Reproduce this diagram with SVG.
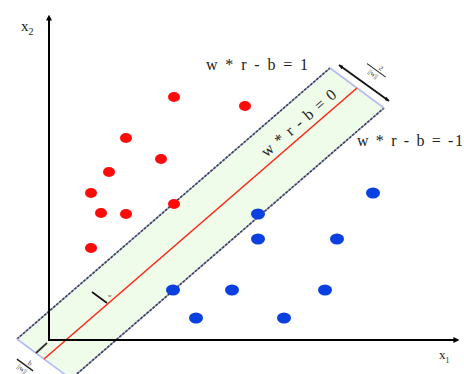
<svg xmlns="http://www.w3.org/2000/svg" width="464" height="374" viewBox="0 0 464 374">
<defs>
<style>
.red{fill:#ff0a0a}
.blue{fill:#0a3fe0}
.lbl{font-family:"Liberation Serif","Times New Roman",serif;fill:#222}
.edge{stroke:#9aa0c8;stroke-width:1.6;fill:none}
.edged{stroke:#3c4058;stroke-width:1.6;stroke-dasharray:2.5,1.5;fill:none}
.short{stroke:#b4bcf2;stroke-width:1.6;fill:none}
.axis{stroke:#000;stroke-width:2;fill:none}
</style>
<marker id="ah" viewBox="0 0 10 10" refX="1" refY="5" markerWidth="6" markerHeight="6" orient="auto" markerUnits="userSpaceOnUse">
<path d="M0,0 L10,5 L0,10 z" fill="#000"/>
</marker>
<marker id="sa" viewBox="0 0 10 10" refX="9" refY="5" markerWidth="5" markerHeight="5" orient="auto-start-reverse" markerUnits="userSpaceOnUse">
<path d="M0,1 L10,5 L0,9 z" fill="#111"/>
</marker>
</defs>
<rect width="464" height="374" fill="#fff"/>
<g id="margin-band">
<polygon points="17,339 330,68 384,108 71,379" fill="#effcea"/>
<line class="edge" x1="17" y1="339" x2="330" y2="68"/>
<line class="edged" x1="17" y1="339" x2="330" y2="68"/>
<line class="edge" x1="71" y1="379" x2="384" y2="108"/>
<line class="edged" x1="71" y1="379" x2="384" y2="108"/>
<line class="short" x1="17" y1="339" x2="71" y2="379"/>
<line class="short" x1="330" y1="68" x2="384" y2="108"/>
</g>
<g id="hyperplane">
<line x1="44" y1="359" x2="357" y2="88" stroke="#ff2a1a" stroke-width="1.6"/>
<text class="lbl" font-size="16" text-anchor="middle" transform="translate(302,127) rotate(-40.9)" textLength="94" lengthAdjust="spacing">w * r - b = 0</text>
</g>
<g id="connectors">
<line class="axis" x1="49" y1="341" x2="49" y2="20" marker-end="url(#ah)"/>
<line class="axis" x1="48" y1="340" x2="454" y2="340" marker-end="url(#ah)"/>
<line x1="339" y1="65" x2="389" y2="101" stroke="#111" stroke-width="1.8" marker-start="url(#sa)" marker-end="url(#sa)"/>
<line x1="36" y1="353" x2="47" y2="343" stroke="#333" stroke-width="1.8"/>
<line x1="92" y1="292" x2="107" y2="303" stroke="#111" stroke-width="1.6"/>
</g>
<g id="axis-labels">
<text class="lbl" x="21" y="31" font-size="15">x<tspan font-size="10" dy="4">2</tspan></text>
<text class="lbl" x="439" y="359" font-size="13">x<tspan font-size="8" dy="4">1</tspan></text>
</g>
<g id="margin-labels">
<text class="lbl" x="206" y="70" font-size="16" textLength="102" lengthAdjust="spacing">w * r - b = 1</text>
<text class="lbl" x="357" y="146" font-size="16" textLength="106" lengthAdjust="spacing">w * r - b = -1</text>
<text class="lbl" font-size="5" x="108" y="297" fill="#777">w</text>
</g>
<g id="width-label" transform="translate(376,70) rotate(36)">
<text class="lbl" font-size="7" x="3" y="-2" text-anchor="middle">2</text>
<line x1="-11" y1="0" x2="12" y2="0" stroke="#222" stroke-width="1"/>
<text class="lbl" font-size="7" x="0" y="7" text-anchor="middle">||w||</text>
</g>
<g id="offset-label" transform="translate(25,365) rotate(36)">
<text class="lbl" font-size="7" x="3" y="-2" text-anchor="middle">b</text>
<line x1="-10" y1="0" x2="10" y2="0" stroke="#222" stroke-width="1.3"/>
<text class="lbl" font-size="7" x="0" y="7" text-anchor="middle">||w||</text>
</g>
<g id="class-red">
<ellipse class="red" cx="174" cy="97" rx="6" ry="5"/>
<ellipse class="red" cx="245" cy="106" rx="6" ry="5"/>
<ellipse class="red" cx="126" cy="138" rx="6" ry="5"/>
<ellipse class="red" cx="161" cy="159" rx="6" ry="5"/>
<ellipse class="red" cx="109" cy="172" rx="6" ry="5"/>
<ellipse class="red" cx="91" cy="193" rx="6" ry="5"/>
<ellipse class="red" cx="101" cy="213" rx="6" ry="5"/>
<ellipse class="red" cx="126" cy="214" rx="6" ry="5"/>
<ellipse class="red" cx="174" cy="204" rx="6" ry="5"/>
<ellipse class="red" cx="91" cy="248" rx="6" ry="5"/>
</g>
<g id="class-blue">
<ellipse class="blue" cx="373" cy="193" rx="7" ry="5.5"/>
<ellipse class="blue" cx="258" cy="214" rx="7" ry="5.5"/>
<ellipse class="blue" cx="258" cy="239" rx="7" ry="5.5"/>
<ellipse class="blue" cx="337" cy="239" rx="7" ry="5.5"/>
<ellipse class="blue" cx="173" cy="290" rx="7" ry="5.5"/>
<ellipse class="blue" cx="232" cy="290" rx="7" ry="5.5"/>
<ellipse class="blue" cx="325" cy="290" rx="7" ry="5.5"/>
<ellipse class="blue" cx="196" cy="318" rx="7" ry="5.5"/>
<ellipse class="blue" cx="284" cy="318" rx="7" ry="5.5"/>
</g>
</svg>
